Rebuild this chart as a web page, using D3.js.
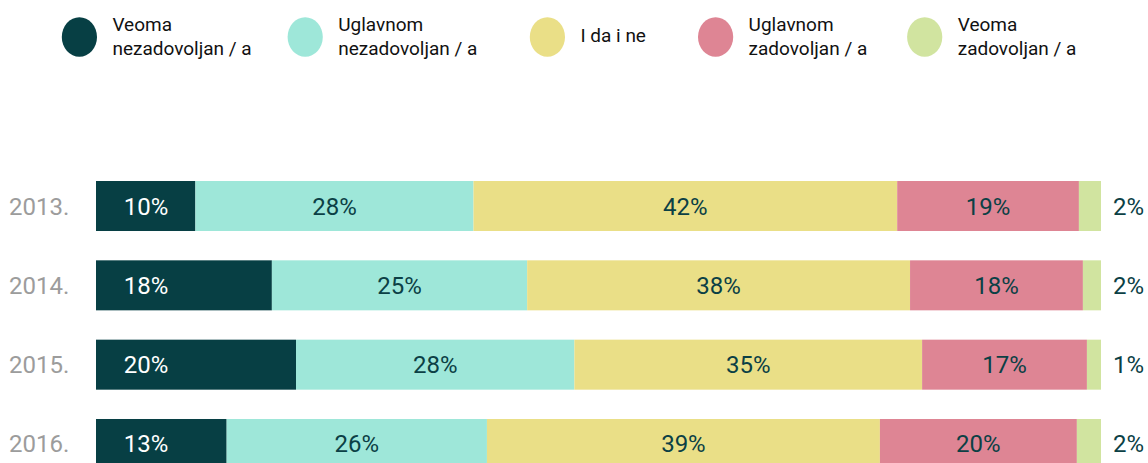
<!DOCTYPE html>
<html>
<head>
<meta charset="utf-8">
<script src="https://cdn.jsdelivr.net/npm/d3@7"></script>
<style>
  html, body { margin: 0; padding: 0; background: #fff; }
  svg { display: block; }
  text { font-family: Roboto, "Noto Sans", sans-serif; }
</style>
</head>
<body>
<svg id="chart" width="1148" height="463"></svg>
<script>
// ---- data ----
const years = ["2013.", "2014.", "2015.", "2016."];
const categories = [
  ["Veoma", "nezadovoljan / a"],
  ["Uglavnom", "nezadovoljan / a"],
  ["I da i ne"],
  ["Uglavnom", "zadovoljan / a"],
  ["Veoma", "zadovoljan / a"]
];
const colors = ["#073f44", "#9ee7d9", "#eadf87", "#de8594", "#d1e4a0"];
// segment sizes (share of bar, %) per year
const v2013 = [9.9, 27.7, 42.2, 18.1, 2.2];
const v2014 = [17.5, 25.4, 38.1, 17.2, 1.8];
const v2015 = [19.9, 27.7, 34.6, 16.4, 1.4];
const v2016 = [13.0, 25.9, 39.1, 19.6, 2.4];
// printed labels (%)
const l2013 = [10, 28, 42, 19, 2];
const l2014 = [18, 25, 38, 18, 2];
const l2015 = [20, 28, 35, 17, 1];
const l2016 = [13, 26, 39, 20, 2];

const values = [v2013, v2014, v2015, v2016];
const labels = [l2013, l2014, l2015, l2016];

// ---- layout ----
const svg = d3.select("#chart");
const x = d3.scaleLinear().domain([0, 100]).range([96, 1101]);
const y = d3.scaleBand().domain(years).range([181, 469]).paddingInner(0.3697).paddingOuter(0);

const darkText = "#0b4045";

// legend
const legendX = [79.4, 305.2, 547.4, 715.6, 924.7];
const legend = svg.append("g");
categories.forEach((lines, i) => {
  const g = legend.append("g").attr("transform", `translate(${legendX[i]},37)`);
  g.append("ellipse").attr("rx", 17.6).attr("ry", 19.8).attr("fill", colors[i]);
  const t = g.append("text")
    .attr("x", 33)
    .attr("font-size", 19)
    .attr("fill", "#111");
  if (lines.length === 1) {
    t.append("tspan").attr("x", 33).attr("y", 4.5).text(lines[0]);
  } else {
    t.append("tspan").attr("x", 33).attr("y", -6.5).text(lines[0]);
    t.append("tspan").attr("x", 33).attr("y", 18.3).text(lines[1]);
  }
});

// bars
years.forEach((yr, r) => {
  const vals = values[r];
  const total = d3.sum(vals);
  let cum = 0;
  const segs = vals.map((v, i) => {
    const s = { i, start: cum / total * 100, end: (cum + v) / total * 100, label: labels[r][i] };
    cum += v;
    return s;
  });
  const row = svg.append("g");
  const yc = y(yr) + y.bandwidth() / 2;

  row.append("text")
    .attr("x", 9).attr("y", yc + 8.5)
    .attr("font-size", 24).attr("fill", "#9c9c9c")
    .text(yr);

  row.selectAll("rect").data(segs).join("rect")
    .attr("x", d => x(d.start))
    .attr("width", d => x(d.end) - x(d.start))
    .attr("y", y(yr))
    .attr("height", y.bandwidth())
    .attr("fill", d => colors[d.i]);

  row.selectAll("text.lbl").data(segs).join("text")
    .attr("class", "lbl")
    .attr("x", d => d.i === 0 ? x.range()[0] + 50
                  : d.i === 4 ? x.range()[1] + 12
                  : (x(d.start) + x(d.end)) / 2)
    .attr("y", yc + 8.5)
    .attr("text-anchor", d => d.i === 4 ? "start" : "middle")
    .attr("font-size", 24)
    .attr("fill", d => d.i === 0 ? "#ffffff" : darkText)
    .text(d => d.label + "%");
});
</script>
</body>
</html>
